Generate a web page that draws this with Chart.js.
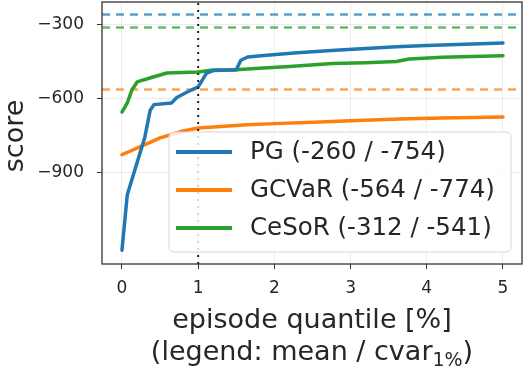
<!DOCTYPE html>
<html>
<head>
<meta charset="utf-8">
<script src="https://cdn.jsdelivr.net/npm/chart.js@4/dist/chart.umd.min.js"></script>
<style>
  html, body { margin: 0; padding: 0; background: #fff; }
  #wrap { width: 526px; height: 376px; }
</style>
</head>
<body>
<div id="wrap"><canvas id="score-chart" width="526" height="376"></canvas></div>
<script>
// score along the lowest episode quantiles, one curve per method
const names = ["PG", "GCVaR", "CeSoR"];
const colors = ["#1f77b4", "#ff7f0e", "#2ca02c"];
const means = [-260, -564, -312];
const cvars = [-754, -774, -541];

const pgX = [0, 0.07, 0.3, 0.37, 0.42, 0.65, 0.72, 0.85, 1.0, 1.11, 1.2, 1.5, 1.56, 1.65, 1.9, 2.3, 2.8, 3.2, 3.6, 4.0, 4.5, 5.0];
const pgY = [-1215, -990, -757, -648, -625, -618, -596, -575, -553, -497, -487, -484, -445, -432, -425, -415, -405, -397, -390, -385, -380, -375];

const gcvarX = [0, 0.12, 0.24, 0.37, 0.5, 0.63, 0.8, 1.0, 1.3, 1.64, 2.0, 2.6, 3.0, 3.64, 4.2, 5.0];
const gcvarY = [-828, -812, -795, -778, -760, -748, -732, -720, -714, -707, -702, -695, -690, -683, -679, -675];

const cesorX = [0, 0.07, 0.13, 0.2, 0.28, 0.41, 0.59, 1.0, 1.19, 1.45, 1.8, 2.2, 2.76, 3.2, 3.6, 3.77, 4.2, 5.0];
const cesorY = [-655, -618, -566, -533, -525, -513, -497, -493, -485, -485, -478, -470, -458, -455, -450, -440, -433, -427];

const xTicks = [0, 1, 2, 3, 4, 5];
const yTicks = [-900, -600, -300];
const cutoff = 1; // quantile used for the cvar column

const xMin = -0.262, xMax = 5.25;
const yMin = -1271, yMax = -209;

const FONT = '"DejaVu Sans", sans-serif';
const TEXT = "#262626";

const toPoints = (xs, ys) => xs.map((x, i) => ({ x: x, y: ys[i] }));
const curves = [toPoints(pgX, pgY), toPoints(gcvarX, gcvarY), toPoints(cesorX, cesorY)];
const labels = names.map((n, i) => n + " (" + means[i] + " / " + cvars[i] + ")");

const datasets = [];
datasets.push({
  data: [{ x: cutoff, y: yMin }, { x: cutoff, y: yMax }],
  borderColor: "#222",
  borderWidth: 2,
  borderDash: [2, 5],
  pointRadius: 0,
  order: 0,
});
curves.forEach((pts, i) => {
  datasets.push({
    label: labels[i],
    data: pts,
    borderColor: colors[i],
    borderWidth: 3.5,
    pointRadius: 0,
    tension: 0,
    borderJoinStyle: "round",
    borderCapStyle: "round",
    order: 1 + i,
  });
});
means.forEach((m, i) => {
  datasets.push({
    data: [{ x: xMin, y: m }, { x: xMax, y: m }],
    borderColor: colors[i] + "b8",
    borderWidth: 2.5,
    borderDash: [8, 6],
    pointRadius: 0,
    order: 5 + i,
  });
});

const fixedTicks = (values) => (scale) => {
  scale.ticks = values.map((v) => ({ value: v }));
};

// keep the axes box exactly where it is laid out
const fixSize = (w, h) => (scale) => {
  if (w) scale.width = w;
  if (h) scale.height = h;
  scale.paddingTop = 0;
  scale.paddingBottom = 0;
  scale.paddingLeft = 0;
  scale.paddingRight = 0;
};

// legend box inside the axes, lower right
const legendBox = {
  id: "legendBox",
  afterDatasetsDraw(chart) {
    const ctx = chart.ctx;
    const x0 = 169, y0 = 132, w = 342, h = 120;
    ctx.save();
    ctx.beginPath();
    ctx.roundRect(x0, y0, w, h, 5);
    ctx.fillStyle = "rgba(255,255,255,0.82)";
    ctx.fill();
    ctx.strokeStyle = "#d6d6d6";
    ctx.lineWidth = 1;
    ctx.stroke();
    ctx.font = "24.5px " + FONT;
    ctx.textBaseline = "middle";
    ctx.textAlign = "left";
    labels.forEach((lab, i) => {
      const y = 152 + i * 38;
      ctx.beginPath();
      ctx.moveTo(176, y);
      ctx.lineTo(232, y);
      ctx.strokeStyle = colors[i];
      ctx.lineWidth = 4;
      ctx.stroke();
      ctx.fillStyle = TEXT;
      ctx.fillText(lab, 250, y + 1);
    });
    ctx.restore();
  },
};

// full frame plus axis titles
const frameAndTitles = {
  id: "frameAndTitles",
  afterDraw(chart) {
    const ctx = chart.ctx;
    const a = chart.chartArea;
    ctx.save();
    ctx.strokeStyle = "#333";
    ctx.lineWidth = 1.3;
    ctx.strokeRect(a.left, a.top, a.right - a.left, a.bottom - a.top);

    ctx.fillStyle = TEXT;
    ctx.font = "27px " + FONT;
    ctx.textAlign = "center";
    ctx.textBaseline = "alphabetic";
    const cx = (a.left + a.right) / 2;
    ctx.fillText("episode quantile [%]", cx, 328);

    const main = "(legend: mean / cvar";
    const sub = "1%";
    const close = ")";
    ctx.font = "27px " + FONT;
    const wMain = ctx.measureText(main).width;
    const wClose = ctx.measureText(close).width;
    ctx.font = "19px " + FONT;
    const wSub = ctx.measureText(sub).width;
    let x = cx - (wMain + wSub + wClose) / 2;
    ctx.textAlign = "left";
    ctx.font = "27px " + FONT;
    ctx.fillText(main, x, 360);
    x += wMain;
    ctx.font = "19px " + FONT;
    ctx.fillText(sub, x, 366);
    x += wSub;
    ctx.font = "27px " + FONT;
    ctx.fillText(close, x, 360);

    ctx.translate(23, 136);
    ctx.rotate(-Math.PI / 2);
    ctx.textAlign = "center";
    ctx.fillText("score", 0, 0);
    ctx.restore();
  },
};

new Chart(document.getElementById("score-chart"), {
  type: "line",
  data: { datasets: datasets },
  plugins: [legendBox, frameAndTitles],
  options: {
    responsive: false,
    animation: false,
    layout: { padding: { top: 2, right: 4, left: 0, bottom: 0 } },
    scales: {
      x: {
        type: "linear",
        min: xMin,
        max: xMax,
        afterBuildTicks: fixedTicks(xTicks),
        afterFit: fixSize(0, 112),
        grid: {
          color: "rgba(0,0,0,0.07)",
          tickColor: "#333",
          tickLength: 5,
        },
        border: { display: false },
        ticks: {
          padding: 9,
          color: TEXT,
          font: { family: FONT, size: 17 },
          maxRotation: 0,
          callback: (v) => String(v),
        },
      },
      y: {
        type: "linear",
        min: yMin,
        max: yMax,
        afterBuildTicks: fixedTicks(yTicks),
        afterFit: fixSize(102, 0),
        grid: {
          color: "rgba(0,0,0,0.07)",
          tickColor: "#333",
          tickLength: 5,
        },
        border: { display: false },
        ticks: {
          padding: 13,
          color: TEXT,
          font: { family: FONT, size: 17 },
          callback: (v) => "\u2212" + Math.abs(v),
        },
      },
    },
    plugins: {
      legend: { display: false },
      tooltip: { enabled: false },
    },
  },
});
</script>
</body>
</html>
